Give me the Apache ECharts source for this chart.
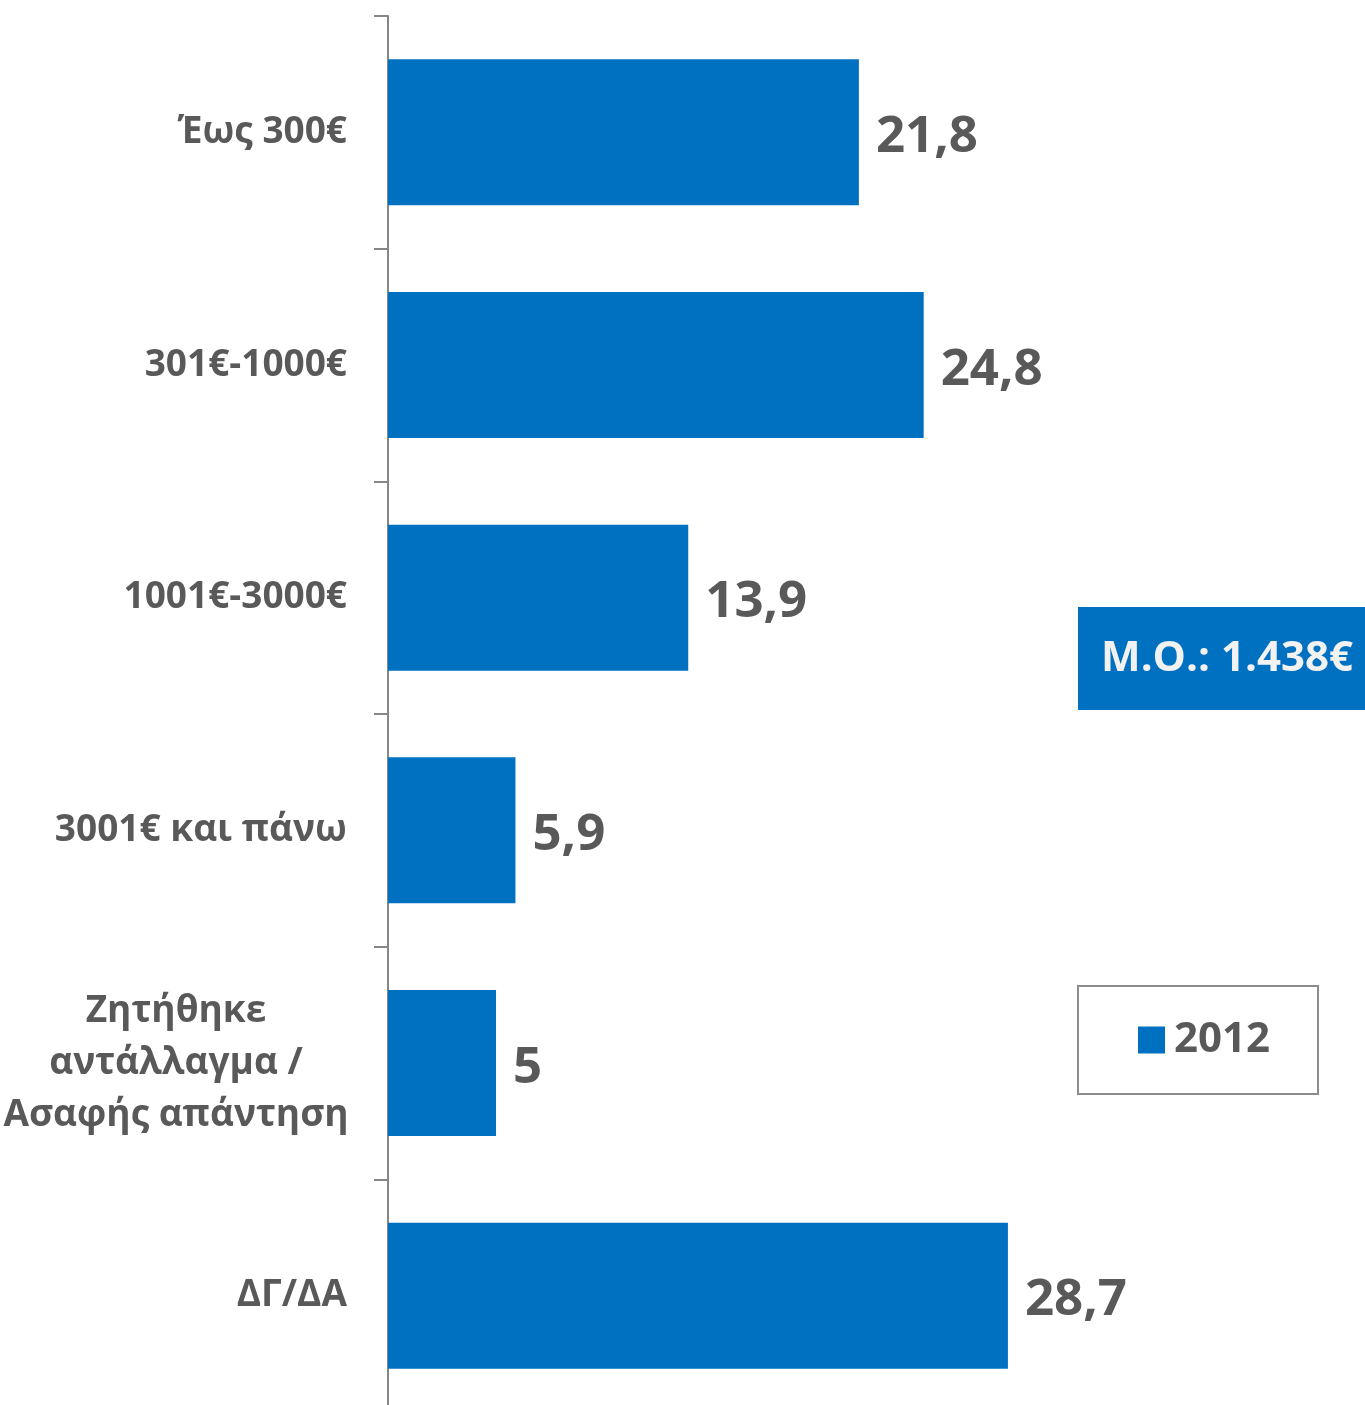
<!DOCTYPE html>
<html>
<head>
<meta charset="utf-8">
<script src="https://cdn.jsdelivr.net/npm/echarts@6/dist/echarts.min.js"></script>
<style>
html,body{margin:0;padding:0;background:#fff;}
#chart{width:1365px;height:1405px;}
</style>
</head>
<body>
<div id="chart"></div>
<script>
var categories = ['Έως 300€', '301€-1000€', '1001€-3000€', '3001€ και πάνω', 'Ζητήθηκε\nαντάλλαγμα /\nΑσαφής απάντηση', 'ΔΓ/ΔΑ'];
var values2012 = [21.8, 24.8, 13.9, 5.9, 5, 28.7];
var seriesName = '2012';
var meanLabel = 'Μ.Ο.: 1.438€';

var FONT = '"Open Sans", "Noto Sans", sans-serif';
var chart = echarts.init(document.getElementById('chart'));
chart.setOption({
  animation: false,
  backgroundColor: '#ffffff',
  grid: {left: 388, right: 5, top: 16, height: 1396, outerBoundsMode: 'none', containLabel: false},
  xAxis: {type: 'value', min: 0, max: 45, show: false},
  yAxis: {
    type: 'category',
    data: categories,
    inverse: true,
    axisLine: {lineStyle: {color: '#868686', width: 2}},
    axisTick: {show: true, length: 14, lineStyle: {color: '#868686', width: 2}},
    axisLabel: {
      margin: 41, fontSize: 37, fontWeight: 'bold', color: '#595959', fontFamily: FONT, lineHeight: 52, align: 'right',
      formatter: function (v) {
        if (v.indexOf('\n') < 0) return v;
        return v.split('\n').map(function (s) { return '{c|' + s + '}'; }).join('\n');
      },
      rich: {
        c: {width: 342, align: 'center', fontSize: 37, fontWeight: 'bold', color: '#595959', fontFamily: FONT, lineHeight: 52}
      }
    }
  },
  legend: {
    show: true,
    data: [seriesName],
    left: 1133,
    top: 1014,
    icon: 'rect',
    itemWidth: 27,
    itemHeight: 27,
    itemGap: 10,
    textStyle: {fontSize: 42, fontWeight: 'bold', color: '#595959', fontFamily: FONT, padding: [0, 0, 0, 4]}
  },
  graphic: [
    {type: 'rect', shape: {x: 1078, y: 986, width: 240, height: 108}, style: {fill: 'none', stroke: '#8c8c8c', lineWidth: 2}, z: 1},
    {type: 'rect', shape: {x: 1078, y: 607, width: 287, height: 103}, style: {fill: '#0070C0'}, z: 1},
    {type: 'text', style: {x: 1227, y: 659, text: meanLabel, fill: '#F2F2F2', font: 'bold 42px ' + FONT, textAlign: 'center', textVerticalAlign: 'middle'}, z: 2}
  ],
  series: [{
    name: seriesName,
    type: 'bar',
    data: values2012,
    barWidth: 146,
    itemStyle: {color: '#0070C0'},
    label: {
      show: true,
      position: 'right',
      distance: 17,
      offset: [0, 5],
      fontSize: 51,
      fontWeight: 'bold',
      color: '#595959',
      fontFamily: FONT,
      formatter: function (p) { return String(p.value).replace('.', ','); }
    }
  }]
});
</script>
</body>
</html>
